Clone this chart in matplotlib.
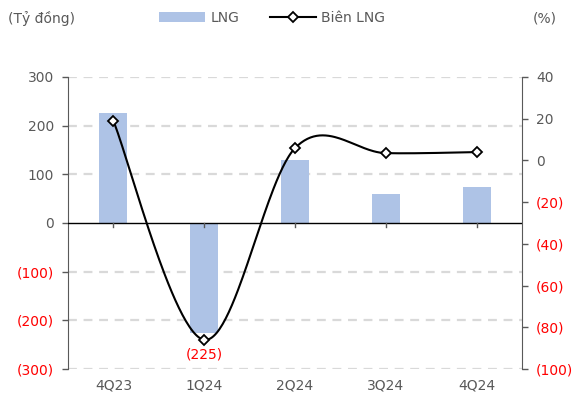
import numpy as np
import matplotlib
matplotlib.use("Agg")
import matplotlib.pyplot as plt
from matplotlib.lines import Line2D
from matplotlib.patches import Patch

categories = ["4Q23", "1Q24", "2Q24", "3Q24", "4Q24"]
profit = [226, -225, 129, 60, 74]          # LNG, tỷ đồng
margin = [18.9, -86.0, 5.9, 3.5, 4.0]      # Biên LNG, %

left_ticks = [300, 200, 100, 0, -100, -200, -300]
right_ticks = [40, 20, 0, -20, -40, -60, -80, -100]

GRAY = "#595959"
RED = "#ff0000"
BAR = "#aec3e6"
FS = 10

plt.rcParams["font.family"] = ["DejaVu Sans"]


def fmt(v):
    return f"({abs(v):,.0f})" if v < 0 else f"{v:,.0f}"


def smooth(xs, ys, n=60):
    # Catmull-Rom style Bezier smoothing through every point
    pts = np.column_stack([xs, ys]).astype(float)
    out = []
    m = len(pts)
    for i in range(m - 1):
        p0 = pts[i - 1] if i > 0 else pts[i]
        p1, p2 = pts[i], pts[i + 1]
        p3 = pts[i + 2] if i + 2 < m else pts[i + 1]
        c1 = p1 + (p2 - p0) / 6.0
        c2 = p2 - (p3 - p1) / 6.0
        t = np.linspace(0, 1, n)[:, None]
        seg = ((1 - t) ** 3) * p1 + 3 * ((1 - t) ** 2) * t * c1 + 3 * (1 - t) * t ** 2 * c2 + t ** 3 * p2
        out.append(seg if i == 0 else seg[1:])
    out = np.vstack(out)
    return out[:, 0], out[:, 1]


fig = plt.figure(figsize=(5.78, 4.03), dpi=100)
ax = fig.add_axes([68 / 578, 1 - 369 / 403, (522 - 68) / 578, (369 - 77) / 403])
ax2 = ax.twinx()

x = np.arange(len(categories))

# gridlines (dashed), zero line solid
for v in left_ticks:
    if v != 0:
        ax.axhline(v, color="#d9d9d9", lw=1.6, ls=(0, (4, 3)), zorder=0)
ax.bar(x, profit, width=0.31, color=BAR, zorder=2)
ax.axhline(0, color="black", lw=1.0, zorder=3)

ax.set_xlim(-0.5, len(categories) - 0.5)
ax.set_ylim(-300, 300)
ax.set_yticks(left_ticks)
ax.set_yticklabels([fmt(v) for v in left_ticks], fontsize=FS)
for lbl, v in zip(ax.get_yticklabels(), left_ticks):
    lbl.set_color(RED if v < 0 else GRAY)
ax.tick_params(axis="y", direction="out", length=4, width=1, color=GRAY, pad=6)

ax.set_xticks(x)
ax.set_xticklabels([])
ax.tick_params(axis="x", length=0)
for xi, c in zip(x, categories):
    ax.plot([xi, xi], [0, -8], color=GRAY, lw=1, zorder=3, clip_on=False)
    ax.annotate(c, (xi, -300), xytext=(0, -12), textcoords="offset points",
                ha="center", va="center", color=GRAY, fontsize=FS, annotation_clip=False)

for s in ["top", "bottom", "right"]:
    ax.spines[s].set_visible(False)
ax.spines["left"].set_color(GRAY)
for s in ["top", "bottom", "left"]:
    ax2.spines[s].set_visible(False)
ax2.spines["right"].set_color(GRAY)

# margin line
sx, sy = smooth(x, margin)
ax2.plot(sx, sy, color="black", lw=1.5, zorder=4)
ax2.plot(x, margin, ls="none", marker="D", ms=5, mfc="white", mec="black", mew=1.3, zorder=5)
ax2.set_ylim(-100, 40)
ax2.set_yticks(right_ticks)
ax2.set_yticklabels([fmt(v) for v in right_ticks], fontsize=FS)
for lbl, v in zip(ax2.get_yticklabels(), right_ticks):
    lbl.set_color(RED if v < 0 else GRAY)
ax2.tick_params(axis="y", direction="out", length=4, width=1, color=GRAY, pad=6)

# label for the negative quarter
i_min = int(np.argmin(profit))
ax.annotate(fmt(profit[i_min]), (x[i_min], profit[i_min]), xytext=(0, -16),
            textcoords="offset points", ha="center", va="center", color=RED, fontsize=FS)

# unit captions
fig.text(8 / 578, 1 - 18 / 403, "(Tỷ đồng)", color=GRAY, fontsize=FS, ha="left", va="center")
fig.text(533 / 578, 1 - 18 / 403, "(%)", color=GRAY, fontsize=FS, ha="left", va="center")

handles = [Patch(facecolor=BAR, edgecolor="none"),
           Line2D([0], [0], color="black", lw=1.5, marker="D", ms=5, mfc="white", mec="black", mew=1.3)]
leg = fig.legend(handles, ["LNG", "Biên LNG"], loc="center", bbox_to_anchor=(272 / 578, 1 - 18 / 403),
                 ncol=2, frameon=False, fontsize=FS, handlelength=3.3, handleheight=0.7,
                 columnspacing=2.2, handletextpad=0.4, borderaxespad=0)
for t in leg.get_texts():
    t.set_color(GRAY)

fig.savefig("out.png", dpi=100)
